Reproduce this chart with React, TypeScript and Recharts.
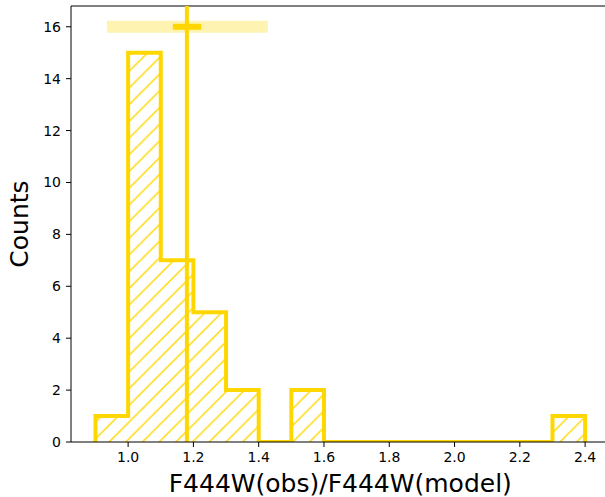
import { ComposedChart, Area, XAxis, YAxis, ReferenceLine, Label } from 'recharts';

const binEdges = [0.9, 1.0, 1.1, 1.2, 1.3, 1.4, 1.5, 1.6, 1.7, 1.8, 1.9, 2.0, 2.1, 2.2, 2.3, 2.4];
const counts = [1, 15, 7, 5, 2, 0, 2, 0, 0, 0, 0, 0, 0, 0, 1];
const xTicks = [1.0, 1.2, 1.4, 1.6, 1.8, 2.0, 2.2, 2.4];
const yTicks = [0, 2, 4, 6, 8, 10, 12, 14, 16];

// marker on top: median with wide and narrow ranges
const medianX = 1.18;
const markerY = 16;
const wideRange = [0.935, 1.428];
const narrowRange = [1.137, 1.224];

const GOLD = '#FFD700';
const FONT = 'DejaVu Sans, sans-serif';

// step outline: rise at first edge, one level per bin, drop at last edge
const last = binEdges.length - 1;
const stepData = [
  { x: binEdges[0], y: 0 },
  ...counts.map((c, i) => ({ x: binEdges[i], y: c })),
  { x: binEdges[last], y: counts[counts.length - 1] },
  { x: binEdges[last], y: 0 },
];

export default function App() {
  return (
    <div style={{ position: 'absolute', left: 0, top: 0, width: 605, height: 497, overflow: 'hidden', background: '#fff' }}>
      <ComposedChart
        width={620}
        height={497}
        data={stepData}
        margin={{ top: 6, right: 10.4, left: 0, bottom: 0 }}
      >
        <defs>
          <pattern id="hatch" patternUnits="userSpaceOnUse" width="16.7" height="16.7">
            <path
              d="M-4,4 L4,-4 M0,16.7 L16.7,0 M12.7,20.7 L20.7,12.7"
              stroke={GOLD}
              strokeWidth={1.4}
            />
          </pattern>
        </defs>
        <XAxis
          dataKey="x"
          type="number"
          domain={[0.825, 2.475]}
          allowDataOverflow
          ticks={xTicks}
          interval={0}
          tickFormatter={(v) => v.toFixed(1)}
          height={55}
          tickSize={5}
          tickMargin={5}
          stroke="#000"
          tick={{ fill: '#000', fontSize: 14, fontFamily: FONT }}
        >
          <Label
            content={({ viewBox }: any) => (
              <text
                x={viewBox.x + viewBox.width / 2}
                y={viewBox.y + 50}
                textAnchor="middle"
                fontSize={25}
                fontFamily={FONT}
                fill="#000"
              >
                F444W(obs)/F444W(model)
              </text>
            )}
          />
        </XAxis>
        <YAxis
          type="number"
          domain={[0, 16.8]}
          allowDataOverflow
          ticks={yTicks}
          interval={0}
          width={71}
          tickSize={5}
          tickMargin={5}
          stroke="#000"
          tick={{ fill: '#000', fontSize: 14, fontFamily: FONT }}
        >
          <Label
            content={({ viewBox }: any) => {
              const cx = viewBox.x + 19;
              const cy = viewBox.y + viewBox.height / 2;
              return (
                <text
                  x={cx}
                  y={cy}
                  transform={`rotate(-90 ${cx} ${cy})`}
                  textAnchor="middle"
                  dominantBaseline="central"
                  fontSize={25}
                  fontFamily={FONT}
                  fill="#000"
                >
                  Counts
                </text>
              );
            }}
          />
        </YAxis>
        <ReferenceLine y={16.8} stroke="#000" strokeWidth={1} ifOverflow="visible" />
        <Area
          type="stepAfter"
          dataKey="y"
          stroke={GOLD}
          strokeWidth={4}
          strokeLinejoin="miter"
          fill="url(#hatch)"
          fillOpacity={1}
          dot={false}
          activeDot={false}
          isAnimationActive={false}
        />
        <ReferenceLine x={medianX} stroke={GOLD} strokeWidth={4} />
        <ReferenceLine
          segment={[{ x: wideRange[0], y: markerY }, { x: wideRange[1], y: markerY }]}
          stroke="rgba(255,215,0,0.3)"
          strokeWidth={12}
        />
        <ReferenceLine
          segment={[{ x: narrowRange[0], y: markerY }, { x: narrowRange[1], y: markerY }]}
          stroke={GOLD}
          strokeWidth={6}
        />
      </ComposedChart>
    </div>
  );
}
